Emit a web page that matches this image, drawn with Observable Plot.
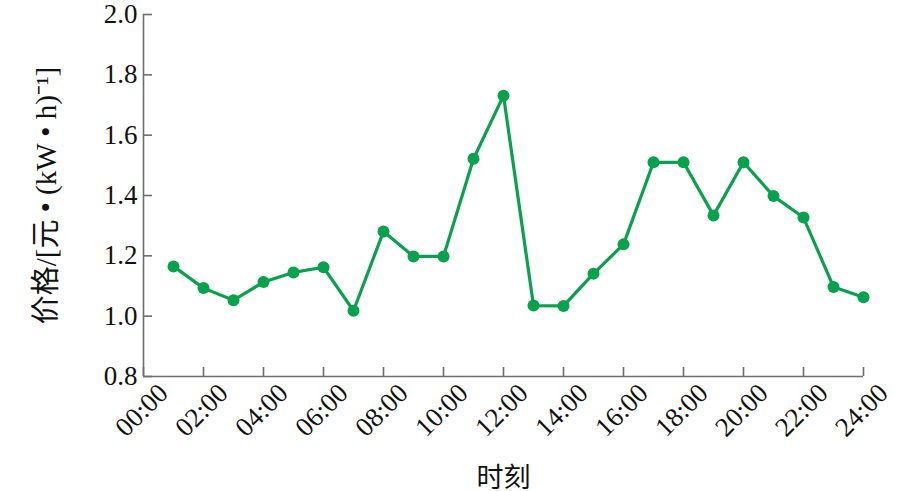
<!DOCTYPE html>
<html>
<head>
<meta charset="utf-8">
<script src="https://cdn.jsdelivr.net/npm/d3@7"></script>
<script src="https://cdn.jsdelivr.net/npm/@observablehq/plot@0.6"></script>
<style>
  html, body { margin: 0; padding: 0; background: #fff; }
  #chart svg { display: block; }
</style>
</head>
<body>
<div id="chart"></div>
<script>
const hours = [1,2,3,4,5,6,7,8,9,10,11,12,13,14,15,16,17,18,19,20,21,22,23,24];
const prices = [1.165,1.093,1.053,1.113,1.145,1.162,1.018,1.281,1.198,1.198,1.522,1.731,1.035,1.034,1.141,1.238,1.510,1.510,1.334,1.510,1.398,1.327,1.097,1.063];
const xTicks = [0,2,4,6,8,10,12,14,16,18,20,22,24];
const xTickLabels = ["00:00","02:00","04:00","06:00","08:00","10:00","12:00","14:00","16:00","18:00","20:00","22:00","24:00"];
const yTicks = [0.8,1.0,1.2,1.4,1.6,1.8,2.0];
const yLabel = "价格/[元 • (kW • h)⁻¹]";
const xLabel = "时刻";

const data = hours.map((h, i) => ({hour: h, price: prices[i]}));
const axisColor = "#6d6d6d";
const green = "#0aa14e";
const font = "'Liberation Serif', 'Noto Sans CJK SC', serif";

const chart = Plot.plot({
  width: 922,
  height: 491,
  marginLeft: 143,
  marginRight: 59,
  marginTop: 14,
  marginBottom: 115,
  style: {fontFamily: font, fontSize: "27px", color: "#111", background: "#fff"},
  x: {domain: [0, 24]},
  y: {domain: [0.8, 2.0]},
  marks: [
    Plot.ruleX([0], {y1: 0.8, y2: 2.0, stroke: axisColor, strokeWidth: 1.6}),
    Plot.ruleY([0.8], {x1: 0, x2: 24, stroke: axisColor, strokeWidth: 1.6}),
    Plot.axisY({ticks: yTicks, tickSize: -9, tickFormat: () => "", stroke: axisColor, strokeWidth: 1.6, label: null}),
    Plot.axisY({ticks: yTicks, tickSize: 0, tickPadding: 6, tickFormat: d3.format(".1f"), fontSize: 27, label: null}),
    Plot.axisY({ticks: [], tickSize: 0, fontSize: 29,
      label: yLabel, labelAnchor: "center", labelArrow: "none", labelOffset: 108}),
    Plot.axisX({ticks: xTicks, tickSize: -9, tickFormat: () => "", stroke: axisColor, strokeWidth: 1.6, label: null}),
    Plot.axisX({ticks: xTicks, tickSize: 0, tickPadding: 6, tickRotate: -45, fontSize: 27, dx: 20, dy: 6,
      tickFormat: (d) => xTickLabels[xTicks.indexOf(d)], label: null}),
    Plot.axisX({ticks: [], tickSize: 0, fontSize: 27,
      label: xLabel, labelAnchor: "center", labelArrow: "none", labelOffset: 110}),
    Plot.line(data, {x: "hour", y: "price", stroke: green, strokeWidth: 3.2}),
    Plot.dot(data, {x: "hour", y: "price", fill: green, r: 6})
  ]
});
document.getElementById("chart").appendChild(chart);
</script>
</body>
</html>
